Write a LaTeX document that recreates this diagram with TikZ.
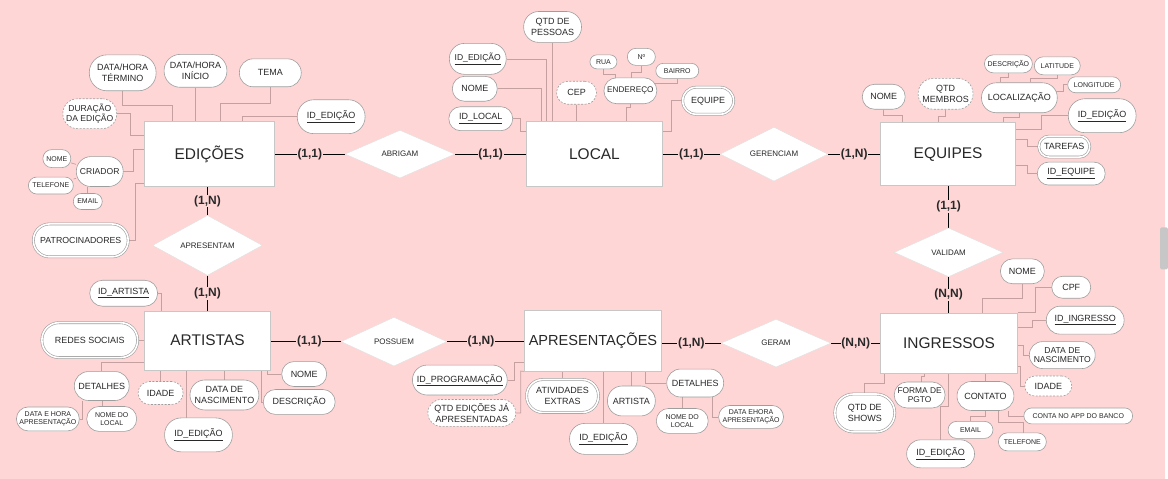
\documentclass[tikz,border=0pt]{standalone}
\usepackage{fontspec}
\setmainfont{Liberation Sans}
\usetikzlibrary{shapes.geometric}
\definecolor{bg}{RGB}{255,214,214}
\definecolor{connc}{RGB}{196,160,160}
\definecolor{txt}{RGB}{40,40,40}
\pgfdeclarelayer{back}
\pgfdeclarelayer{lines}
\pgfsetlayers{back,lines,main}
\tikzset{
  ent/.style={draw=black!22, fill=white, line width=0.8pt, text=txt, font=\fontsize{15.5}{17}\selectfont},
  rel/.style={diamond, draw=black!12, fill=white, inner sep=0pt, text=txt, font=\fontsize{8}{9}\selectfont},
  attr/.style={draw=black!38, fill=white, line width=0.6pt, inner sep=0pt, align=center, text=txt, font=\fontsize{9}{10.4}\selectfont},
  sm/.style={font=\fontsize{7}{8.2}\selectfont},
  derived/.style={dash pattern=on 2pt off 1.5pt},
  multi/.style={double=white, double distance=1.6pt},
  conn/.style={draw=connc, line width=0.7pt},
  link/.style={draw=black, line width=1.2pt},
  card/.style={fill=bg, inner sep=0.8pt, text=txt, font=\bfseries\fontsize{12}{13}\selectfont},
  box/.code 2 args={\pgfmathsetmacro\rr{0.49*#2}\pgfkeysalso{minimum width=#1pt, minimum height=#2pt, rounded corners=\rr pt}}
}
\begin{document}
\begin{tikzpicture}[x=1pt, y=-1pt]
\begin{pgfonlayer}{back}
  \fill[bg] (0,0) rectangle (1168,480);
  \fill[black!22, rounded corners=1.5pt] (1163,228) rectangle (1171,270);
\end{pgfonlayer}
\useasboundingbox (0,0) rectangle (1168,480);

% entities
\node[ent, minimum width=130pt, minimum height=65pt] (ed)  at (210,154.5) {EDIÇÕES};
\node[ent, minimum width=136pt, minimum height=65pt] (loc) at (596,154.5) {LOCAL};
\node[ent, minimum width=135pt, minimum height=63pt] (eq)  at (950.5,154.5) {EQUIPES};
\node[ent, minimum width=126pt, minimum height=59pt] (art) at (208,341.5) {ARTISTAS};
\node[ent, minimum width=137pt, minimum height=61pt, inner sep=1pt, font=\fontsize{14.6}{16}\selectfont] (apr) at (594.5,341.5) {APRESENTAÇÕES};
\node[ent, minimum width=137pt, minimum height=60pt] (ing) at (951.5,344) {INGRESSOS};

% relationships
\node[rel, minimum width=110pt, minimum height=48pt] (abr) at (401,154.5) {ABRIGAM};
\node[rel, minimum width=108pt, minimum height=48pt] (ger) at (776,154.5) {GERENCIAM};
\node[rel, minimum width=110pt, minimum height=47pt] (apm) at (208,246) {APRESENTAM};
\node[rel, minimum width=106pt, minimum height=49pt] (pos) at (395,342.5) {POSSUEM};
\node[rel, minimum width=110pt, minimum height=48pt] (gra) at (778,344) {GERAM};
\node[rel, minimum width=109pt, minimum height=49pt] (val) at (951,253) {VALIDAM};

% EDICOES attributes
\node[attr, box={67}{36}] (e1) at (123,73) {DATA/HORA\\TÉRMINO};
\node[attr, box={63}{33}] (e2) at (196,71) {DATA/HORA\\INÍCIO};
\node[attr, box={62}{28}] (e3) at (271,73) {TEMA};
\node[attr, box={68}{34}] (e4) at (332,117) {\underline{ID\_EDIÇÃO}};
\node[attr, derived, box={54}{30}, font=\fontsize{8.6}{10}\selectfont] (e5) at (90,114) {DURAÇÃO\\DA EDIÇÃO};
\node[attr, box={47}{30}, font=\fontsize{8.6}{10}\selectfont] (e6) at (100,172) {CRIADOR};
\node[attr, sm, box={28}{18}] (e6a) at (57,159) {NOME};
\node[attr, sm, box={45}{17}] (e6b) at (51,186) {TELEFONE};
\node[attr, sm, box={29}{16}] (e6c) at (88,202) {EMAIL};
\node[attr, multi, box={95}{33}, font=\fontsize{8.8}{10}\selectfont] (e7) at (81,241) {PATROCINADORES};

% LOCAL attributes
\node[attr, box={58}{31}] (l1) at (554,27) {QTD DE\\PESSOAS};
\node[attr, box={57}{31}, font=\fontsize{8.6}{10}\selectfont] (l2) at (479,59) {\underline{ID\_EDIÇÃO}};
\node[attr, box={45}{25}] (l3) at (476,89) {NOME};
\node[attr, box={64}{24}] (l4) at (482,119) {\underline{ID\_LOCAL}};
\node[attr, derived, box={40}{23}] (l5) at (578,93) {CEP};
\node[attr, box={53}{26}, font=\fontsize{8.2}{10}\selectfont] (l6) at (632,91) {ENDEREÇO};
\node[attr, sm, box={27}{14}] (l6a) at (605,62) {RUA};
\node[attr, sm, box={28}{17}] (l6b) at (643,57) {Nº};
\node[attr, sm, box={43}{15}] (l6c) at (679,71) {BAIRRO};
\node[attr, multi, box={51}{27}] (l7) at (710,101) {EQUIPE};

% EQUIPES attributes
\node[attr, box={43}{25}] (q1) at (886,97) {NOME};
\node[attr, derived, box={55}{31}] (q2) at (948,94) {QTD\\MEMBROS};
\node[attr, box={76}{30}] (q3) at (1022,98) {LOCALIZAÇÃO};
\node[attr, sm, box={48}{18}] (q3a) at (1011,64) {DESCRIÇÃO};
\node[attr, sm, box={46}{18}] (q3b) at (1060,66) {LATITUDE};
\node[attr, sm, box={53}{16}] (q3c) at (1097,85) {LONGITUDE};
\node[attr, box={68}{34}] (q4) at (1105,116) {\underline{ID\_EDIÇÃO}};
\node[attr, multi, box={51}{21}] (q5) at (1067,147) {TAREFAS};
\node[attr, box={68}{23}] (q6) at (1074,174) {\underline{ID\_EQUIPE}};

% ARTISTAS attributes
\node[attr, box={68}{26}] (a1) at (124,294) {\underline{ID\_ARTISTA}};
\node[attr, multi, box={96}{35}] (a2) at (90,341) {REDES SOCIAIS};
\node[attr, box={55}{29}] (a3) at (102,387) {DETALHES};
\node[attr, sm, box={63}{24}] (a3a) at (48,420) {DATA E HORA\\APRESENTAÇÃO};
\node[attr, sm, box={50}{25}] (a3b) at (112,420) {NOME DO\\LOCAL};
\node[attr, derived, box={45}{23}] (a4) at (161,394) {IDADE};
\node[attr, box={69}{30}] (a5) at (225,396) {DATA DE\\NASCIMENTO};
\node[attr, box={68}{34}] (a6) at (199,436) {\underline{ID\_EDIÇÃO}};
\node[attr, box={45}{25}] (a7) at (305,375) {NOME};
\node[attr, box={72}{25}] (a8) at (300,403) {DESCRIÇÃO};

% APRESENTACOES attributes
\node[attr, box={95}{30}] (p1) at (461,381) {\underline{ID\_PROGRAMAÇÃO}};
\node[attr, derived, box={88}{27}] (p2) at (473,414) {QTD EDIÇÕES JÁ\\APRESENTADAS};
\node[attr, multi, box={72}{33}] (p3) at (564,397) {ATIVIDADES\\EXTRAS};
\node[attr, box={68}{31}] (p4) at (605,440) {\underline{ID\_EDIÇÃO}};
\node[attr, box={48}{30}] (p5) at (633,402) {ARTISTA};
\node[attr, box={57}{28}] (p6) at (697,384) {DETALHES};
\node[attr, sm, box={52}{25}] (p6a) at (684,422) {NOME DO\\LOCAL};
\node[attr, sm, box={65}{23}] (p6b) at (753,418) {DATA EHORA\\APRESENTAÇÃO};

% INGRESSOS attributes
\node[attr, box={44}{25}] (i1) at (1025,272) {NOME};
\node[attr, box={39}{22}] (i2) at (1074,288) {CPF};
\node[attr, box={78}{28}] (i3) at (1088,321) {\underline{ID\_INGRESSO}};
\node[attr, box={66}{27}, font=\fontsize{8.6}{9.8}\selectfont] (i4) at (1065,356) {DATA DE\\NASCIMENTO};
\node[attr, derived, box={47}{20}] (i5) at (1051,387) {IDADE};
\node[attr, box={57}{29}] (i6) at (988,397) {CONTATO};
\node[attr, sm, box={45}{17}] (i6a) at (973,431) {EMAIL};
\node[attr, sm, box={48}{18}] (i6b) at (1025,443) {TELEFONE};
\node[attr, sm, box={109}{16}] (i6c) at (1081,417) {CONTA NO APP DO BANCO};
\node[attr, multi, box={60}{38}] (i7) at (867,414) {QTD DE\\SHOWS};
\node[attr, box={51}{26}, font=\fontsize{8.4}{9.6}\selectfont] (i8) at (922,396) {FORMA DE\\PGTO};
\node[attr, box={68}{28}] (i9) at (943,455) {\underline{ID\_EDIÇÃO}};

% attribute connectors
\begin{pgfonlayer}{lines}
  % EDICOES
  \draw[conn] (e1.south) |- (173,106) -- (173,0 |- ed.north);
  \draw[conn] (e2.south) -- (e2.south |- ed.north);
  \draw[conn] (e3.south) |- (221,104) -- (221,0 |- ed.north);
  \draw[conn] (e4.west) -| (243,0 |- ed.north);
  \draw[conn] (e5.east) -| (131,136) -- (131,136 -| ed.west);
  \draw[conn] (e6.east) -| (134,150) -- (134,150 -| ed.west);
  \draw[conn] (e6a) -- (e6);
  \draw[conn] (e6b) -- (e6);
  \draw[conn] (e6c.north) -- (e6c.north |- e6.south);
  \draw[conn] (e7.east) -| (136,184) -- (136,184 -| ed.west);
  % LOCAL
  \draw[conn] (l1.south) -- (l1.south |- loc.north);
  \draw[conn] (l2.east) -| (548,0 |- loc.north);
  \draw[conn] (l3.east) -| (543,0 |- loc.north);
  \draw[conn] (l4.east) -| (522,132) -- (522,132 -| loc.west);
  \draw[conn] (l5.south) -- (l5.south |- loc.north);
  \draw[conn] (l6.south) |- (628,108) -- (628,0 |- loc.north);
  \draw[conn] (l6a.south) |- (617,75) -- (617,0 |- l6.north);
  \draw[conn] (l6b.south) |- (633,73) -- (633,0 |- l6.north);
  \draw[conn] (l6c.south) |- (652,84);
  \draw[conn] (l7.west) -| (673,132) -- (673,132 -| loc.east);
  % EQUIPES
  \draw[conn] (q1.south) |- (905,116) -- (905,0 |- eq.north);
  \draw[conn] (q2.south) |- (941,117) -- (941,0 |- eq.north);
  \draw[conn] (q3.south) |- (1006,118) -- (1006,0 |- eq.north);
  \draw[conn] (q3a.south) |- (1003,78) -- (1003,0 |- q3.north);
  \draw[conn] (q3b.south) |- (1033,79) -- (1033,0 |- q3.north);
  \draw[conn] (q3c.west) -| (1066,92) -- (1055,92);
  \draw[conn] (q4.west) -| (1044,130) -- (1044,130 -| eq.east);
  \draw[conn] (q5.west) -| (1030,140) -- (1030,140 -| eq.east);
  \draw[conn] (q6.west) -| (1030,166) -- (1030,166 -| eq.east);
  % ARTISTAS
  \draw[conn] (a1.east) -| (162,0 |- art.north);
  \draw[conn] (a2.east) -- (a2.east -| art.west);
  \draw[conn] (a3.north) |- (art.west |- 0,363);
  \draw[conn] (a3a.east) -| (83,0 |- a3.south);
  \draw[conn] (103,0 |- a3b.north) -- (103,0 |- a3.south);
  \draw[conn] (a4.north) -- (a4.north |- art.south);
  \draw[conn] (a5.north) -- (a5.north |- art.south);
  \draw[conn] (187,0 |- a6.north) -- (187,0 |- art.south);
  \draw[conn] (a7.west) -| (268,0 |- art.south);
  \draw[conn] (a8.west) -| (262,0 |- art.south);
  % APRESENTACOES
  \draw[conn] (p1.east) -| (516,363) -- (516,363 -| apr.west);
  \draw[conn] (p2.east) -| (522,372) -- (apr.south west);
  \draw[conn] (p3.north) -- (p3.north |- apr.south);
  \draw[conn] (p4.north) -- (p4.north |- apr.south);
  \draw[conn] (p5.north) -- (p5.north |- apr.south);
  \draw[conn] (p6.west) -| (647,0 |- apr.south);
  \draw[conn] (p6a.north) -- (p6a.north |- p6.south);
  \draw[conn] (p6b.west) -| (714,0 |- p6.south);
  % INGRESSOS
  \draw[conn] (i1.south) |- (985,299) -- (985,0 |- ing.north);
  \draw[conn] (i2.west) -| (1038,313) -- (1038,313 -| ing.east);
  \draw[conn] (i3.west) -| (1035,328) -- (1035,328 -| ing.east);
  \draw[conn] (i4.west) -| (1026,346) -- (1026,346 -| ing.east);
  \draw[conn] (i5.west) -| (1023,367) -- (1023,367 -| ing.east);
  \draw[conn] (i6.north) -- (i6.north |- ing.south);
  \draw[conn] (i6a.north) |- (988,417) -- (988,0 |- i6.south);
  \draw[conn] (1026,0 |- i6b.north) |- (1001,423) -- (1001,0 |- i6.south);
  \draw[conn] (i6c.west) -| (1011,0 |- i6.south);
  \draw[conn] (i7.north) |- (887,384) -- (887,0 |- ing.south);
  \draw[conn] (924,0 |- i8.north) |- (927,377) -- (927,0 |- ing.south);
  \draw[conn] (i9.north) |- (951,407) -- (951,0 |- ing.south);

  % relationship links
  \draw[link] (ed.east |- abr.west) -- node[card]{(1,1)} (abr.west);
  \draw[link] (abr.east) -- node[card]{(1,1)} (abr.east -| loc.west);
  \draw[link] (loc.east |- ger.west) -- node[card]{(1,1)} (ger.west);
  \draw[link] (ger.east) -- node[card]{(1,N)} (ger.east -| eq.west);
  \draw[link] (val.north |- eq.south) -- node[card]{(1,1)} (val.north);
  \draw[link] (val.south) -- node[card]{(N,N)} (val.south |- ing.north);
  \draw[link] (apm.north |- ed.south) -- node[card]{(1,N)} (apm.north);
  \draw[link] (apm.south) -- node[card]{(1,N)} (apm.south |- art.north);
  \draw[link] (art.east |- pos.west) -- node[card, pos=0.55]{(1,1)} (pos.west);
  \draw[link] (pos.east) -- node[card, pos=0.44]{(1,N)} (pos.east -| apr.west);
  \draw[link] (apr.east |- gra.west) -- node[card]{(1,N)} (gra.west);
  \draw[link] (gra.east) -- node[card]{(N,N)} (gra.east -| ing.west);
\end{pgfonlayer}
\end{tikzpicture}
\end{document}
